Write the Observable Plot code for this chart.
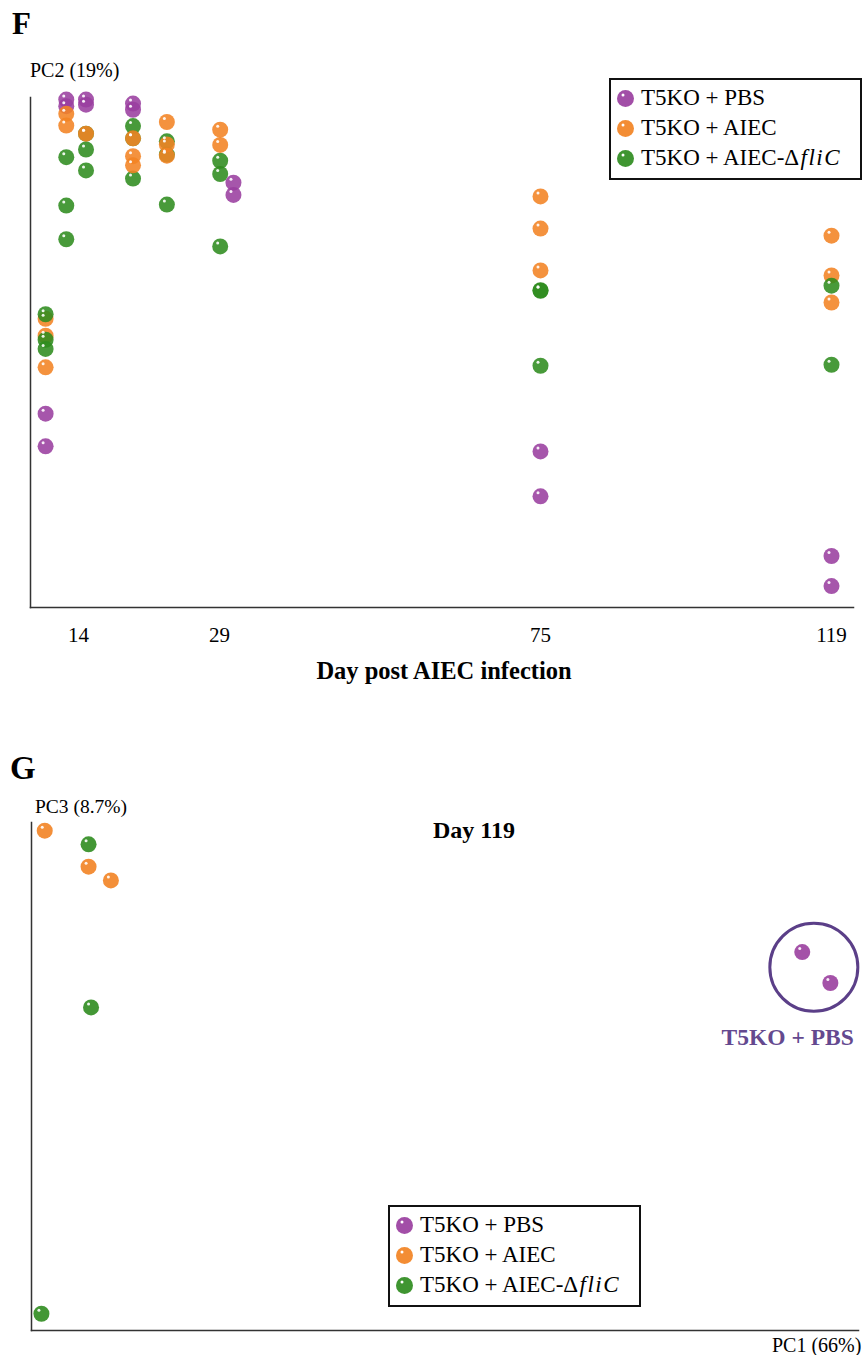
<!DOCTYPE html>
<html>
<head>
<meta charset="utf-8">
<script src="https://cdn.jsdelivr.net/npm/d3@7"></script>
<script src="https://cdn.jsdelivr.net/npm/@observablehq/plot@0.6"></script>
<style>
  body { margin: 0; background: #fff; font-family: "Liberation Serif", "Times New Roman", serif; }
  #wrap { position: relative; width: 864px; height: 1355px; overflow: hidden; }
  .abs { position: absolute; white-space: nowrap; color: #000; line-height: 1; font-family: "Liberation Serif", "Times New Roman", serif; }
  .panel { position: absolute; left: 0; }
  .legend { position: absolute; box-sizing: border-box; border: 2px solid #111; background: #fff; padding: 3px 0 0 6px; }
  .legend .row { height: 30px; line-height: 30px; font-size: 23px; display: flex; align-items: center; white-space: nowrap; font-family: "Liberation Serif", "Times New Roman", serif; color: #000; }
  .legend svg { margin-right: 7px; flex: none; }
  .legend .del { letter-spacing: 1.5px; }
</style>
</head>
<body>
<div id="wrap"></div>
<script>
// ---------- data ----------
const groups = ["T5KO + PBS", "T5KO + AIEC", "T5KO + AIEC-ΔfliC"];
const groupColors = ["#9a3f9f", "#f28323", "#2f8c1f"];

// Panel F: PC2 score over day post infection
const dayTicks = [14, 29, 75, 119];
const pbsDay  = [12.7, 12.7, 14.8, 14.8, 19.8, 19.8, 31.0, 31.0, 10.5, 10.5, 75, 75, 119, 119];
const pbsPC2  = [0.496, 0.483, 0.496, 0.486, 0.488, 0.476, 0.333, 0.309, -0.120, -0.184, -0.194, -0.282, -0.399, -0.458];
const aiecDay = [12.7, 12.7, 14.8, 19.8, 19.8, 19.8, 23.4, 23.4, 23.4, 29.1, 29.1, 10.5, 10.5, 10.5, 75, 75, 75, 119, 119, 119];
const aiecPC2 = [0.468, 0.445, 0.429, 0.420, 0.385, 0.367, 0.452, 0.408, 0.386, 0.437, 0.407, 0.066, 0.033, -0.029, 0.306, 0.243, 0.161, 0.229, 0.151, 0.098];
const flicDay = [12.7, 12.7, 12.7, 14.8, 14.8, 14.8, 19.8, 19.8, 19.8, 23.4, 23.4, 23.4, 29.1, 29.1, 29.1, 10.5, 10.5, 10.5, 75, 75, 75, 119, 119];
const flicPC2 = [0.383, 0.288, 0.222, 0.429, 0.398, 0.357, 0.444, 0.420, 0.341, 0.414, 0.388, 0.290, 0.376, 0.350, 0.208, 0.075, 0.025, 0.007, 0.122, 0.121, -0.026, 0.131, -0.024];

// Panel G: Day 119, PC1 vs PC3
const pbsPC1g  = [0.932, 0.966];
const pbsPC3g  = [0.745, 0.684];
const aiecPC1g = [0.016, 0.069, 0.096];
const aiecPC3g = [0.984, 0.913, 0.886];
const flicPC1g = [0.069, 0.072, 0.012];
const flicPC3g = [0.957, 0.636, 0.033];
const pbsCluster = [{pc1: 0.946, pc3: 0.715, label: "T5KO + PBS"}];

// ---------- tables ----------
const rowsPBS  = pbsDay.map((d, i) => ({group: groups[0], day: d, pc2: pbsPC2[i]}));
const rowsAIEC = aiecDay.map((d, i) => ({group: groups[1], day: d, pc2: aiecPC2[i]}));
const rowsFLIC = flicDay.map((d, i) => ({group: groups[2], day: d, pc2: flicPC2[i]}));
// draw order differs between the early time points and the others
const isEarly = d => d.day > 12 && d.day < 60;
const dataFouter = [...rowsAIEC, ...rowsFLIC, ...rowsPBS].filter(d => !isEarly(d));
const dataFearly = [...rowsFLIC, ...rowsPBS, ...rowsAIEC].filter(isEarly);
const dataF = [...dataFouter, ...dataFearly];

const dataG = [
  ...aiecPC1g.map((v, i) => ({group: groups[1], pc1: v, pc3: aiecPC3g[i]})),
  ...flicPC1g.map((v, i) => ({group: groups[2], pc1: v, pc3: flicPC3g[i]})),
  ...pbsPC1g.map((v, i) => ({group: groups[0], pc1: v, pc3: pbsPC3g[i]}))
];

const wrap = document.getElementById("wrap");
const FONT = "'Liberation Serif', 'Times New Roman', serif";
const colorScale = {domain: groups, range: groupColors};

function addText(html, css) {
  const d = document.createElement("div");
  d.className = "abs";
  d.innerHTML = html;
  Object.assign(d.style, css);
  wrap.appendChild(d);
  return d;
}

function legendBox(left, top) {
  const box = document.createElement("div");
  box.className = "legend";
  Object.assign(box.style, {left: left + "px", top: top + "px", width: "253px", height: "102px"});
  const labels = ["T5KO + PBS", "T5KO + AIEC", "T5KO + AIEC-<span class='del'>Δ<i>fliC</i></span>"];
  groups.forEach((g, i) => {
    const row = document.createElement("div");
    row.className = "row";
    row.innerHTML = `<svg width="17" height="17"><circle cx="8.5" cy="8.5" r="8.5" fill="${groupColors[i]}" fill-opacity="0.92"/><circle cx="6" cy="5" r="1.5" fill="#fff"/></svg><span>${labels[i]}</span>`;
    box.appendChild(row);
  });
  wrap.appendChild(box);
}

function dotMarks(data, x, y, opacity) {
  return [
    Plot.dot(data, {x, y, fill: "group", r: 8, fillOpacity: opacity}),
    Plot.dot(data, {x, y, fill: "white", r: 1.5, dx: -2.5, dy: -3.5, fillOpacity: 0.9})
  ];
}

// ---------- Panel F ----------
const plotF = Plot.plot({
  width: 864,
  height: 700,
  marginLeft: 30,
  marginRight: 11,
  marginTop: 97,
  marginBottom: 93,
  style: {fontFamily: FONT, background: "transparent", overflow: "visible"},
  x: {type: "linear", domain: dayTicks, range: [78, 219, 540, 831]},
  y: {domain: [-0.5, 0.5]},
  color: colorScale,
  marks: [
    Plot.frame({anchor: "left", stroke: "#333", strokeWidth: 1.5}),
    Plot.frame({anchor: "bottom", stroke: "#333", strokeWidth: 1.5}),
    Plot.axisX({ticks: dayTicks, tickSize: 0, tickPadding: 20, fontSize: 21, label: null, fill: "#000"}),
    Plot.axisY({ticks: [], label: null}),
    ...dotMarks(dataFouter, "day", "pc2", 0.88),
    ...dotMarks(dataFearly, "day", "pc2", 0.88)
  ]
});
plotF.classList.add("panel");
plotF.style.top = "0px";
wrap.appendChild(plotF);

addText("F", {left: "12px", top: "8px", fontSize: "31px", fontWeight: "bold"});
addText("PC2 (19%)", {left: "30px", top: "60px", fontSize: "20px"});
addText("Day post AIEC infection", {left: "444px", top: "659px", fontSize: "24.5px", fontWeight: "bold", transform: "translateX(-50%)"});
legendBox(609, 78);

// ---------- Panel G ----------
const plotG = Plot.plot({
  width: 864,
  height: 655,
  marginLeft: 31,
  marginRight: 6,
  marginTop: 122,
  marginBottom: 25,
  style: {fontFamily: FONT, background: "transparent", overflow: "visible"},
  x: {domain: [0, 1]},
  y: {domain: [0, 1]},
  color: colorScale,
  marks: [
    Plot.frame({anchor: "left", stroke: "#333", strokeWidth: 1.5}),
    Plot.frame({anchor: "bottom", stroke: "#333", strokeWidth: 1.5}),
    Plot.axisX({ticks: [], label: null}),
    Plot.axisY({ticks: [], label: null}),
    Plot.dot(pbsCluster, {x: "pc1", y: "pc3", r: 44, fill: "none", stroke: "#5b3f88", strokeWidth: 3}),
    Plot.text(pbsCluster, {x: "pc1", y: "pc3", text: "label", dy: 70, dx: 40, textAnchor: "end", fontSize: 23.5, fontWeight: "bold", fill: "#64498f"}),
    ...dotMarks(dataG, "pc1", "pc3", 0.9)
  ]
});
plotG.classList.add("panel");
plotG.style.top = "700px";
wrap.appendChild(plotG);

addText("G", {left: "10px", top: "752px", fontSize: "33px", fontWeight: "bold"});
addText("PC3 (8.7%)", {left: "35px", top: "797px", fontSize: "19.5px"});
addText("Day 119", {left: "474px", top: "818px", fontSize: "24px", fontWeight: "bold", transform: "translateX(-50%)"});
addText("PC1 (66%)", {left: "772px", top: "1335px", fontSize: "20px"});
legendBox(388, 1205);
</script>
</body>
</html>
